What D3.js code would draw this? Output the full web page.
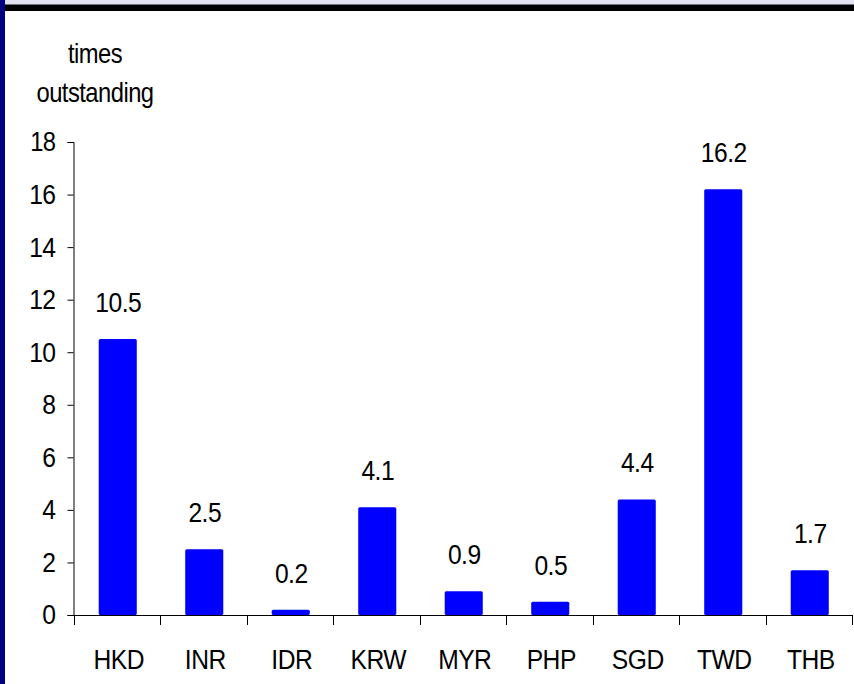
<!DOCTYPE html>
<html>
<head>
<meta charset="utf-8">
<script src="https://cdn.jsdelivr.net/npm/d3@7/dist/d3.min.js"></script>
<style>
  html, body { margin: 0; padding: 0; background: #fff; }
  svg { display: block; }
  text { font-family: "Liberation Sans", Arial, sans-serif; fill: #000; }
</style>
</head>
<body>
<svg id="chart" width="854" height="684"></svg>
<script>
const categories = ["HKD", "INR", "IDR", "KRW", "MYR", "PHP", "SGD", "TWD", "THB"];
const values = [10.5, 2.5, 0.2, 4.1, 0.9, 0.5, 4.4, 16.2, 1.7];
const yTicks = [0, 2, 4, 6, 8, 10, 12, 14, 16, 18];
const unitLines = ["times", "outstanding"];

const svg = d3.select("#chart");
const W = 854, H = 684;

// frame decorations
svg.append("rect").attr("x", 0).attr("y", 0).attr("width", W).attr("height", 5).attr("fill", "#e2e2f2");
svg.append("rect").attr("x", 0).attr("y", 4.5).attr("width", W).attr("height", 6.5).attr("fill", "#000");
svg.append("rect").attr("x", 0).attr("y", 0).attr("width", 5).attr("height", H).attr("fill", "#000080");

const x = d3.scaleBand().domain(categories).range([73.5, 852]).padding(0);
const y = d3.scaleLinear().domain([0, 18]).range([615, 142]);

const fontSize = 28, ls = -0.6, sx = 0.88;

// condense text horizontally around its anchor
function condense(sel) {
  sel.each(function () {
    const t = d3.select(this);
    const tx = +t.attr("x") || 0, ty = +t.attr("y") || 0;
    t.attr("x", 0).attr("y", 0)
      .attr("transform", `translate(${tx},${ty}) scale(${sx},1)`)
      .style("font-size", fontSize + "px")
      .style("letter-spacing", ls + "px")
      .style("font-family", '"Liberation Sans", Arial, sans-serif');
  });
}

// y axis
const yAxis = svg.append("g")
  .attr("transform", "translate(73.5,0)")
  .call(d3.axisLeft(y).tickValues(yTicks).tickFormat(d3.format("d")).tickSize(6).tickPadding(12));
yAxis.selectAll("path, line").attr("stroke", "#000");
yAxis.selectAll("text").call(condense);

// x axis line
svg.append("line")
  .attr("x1", x.range()[0]).attr("x2", x.range()[1])
  .attr("y1", y(0) + 0.5).attr("y2", y(0) + 0.5)
  .attr("stroke", "#000");

// x boundary ticks
const boundaries = categories.map(c => x(c)).concat([x(categories[categories.length - 1]) + x.step()]);
svg.append("g").selectAll("line").data(boundaries).join("line")
  .attr("x1", d => Math.round(d) + 0.5).attr("x2", d => Math.round(d) + 0.5)
  .attr("y1", y(0)).attr("y2", y(0) + 10)
  .attr("stroke", "#000");

// bars
const barW = x.bandwidth() * 0.44;
svg.append("g").selectAll("rect").data(values).join("rect")
  .attr("x", (d, i) => x(categories[i]) + (x.bandwidth() - barW) / 2 + 1)
  .attr("y", d => y(d))
  .attr("width", barW)
  .attr("height", d => y(0) - y(d))
  .attr("rx", 1.5)
  .attr("fill", "#0000ff");

// value labels
svg.append("g").selectAll("text").data(values).join("text")
  .attr("x", (d, i) => x(categories[i]) + x.bandwidth() / 2 + 1.5)
  .attr("y", d => y(d) - 27)
  .attr("text-anchor", "middle")
  .text(d => d.toFixed(1))
  .call(condense);

// category labels
svg.append("g").selectAll("text").data(categories).join("text")
  .attr("x", d => x(d) + x.bandwidth() / 2 + 2)
  .attr("y", 669)
  .attr("text-anchor", "middle")
  .text(d => d)
  .call(condense);

// unit label
svg.append("g").selectAll("text").data(unitLines).join("text")
  .attr("x", 95)
  .attr("y", (d, i) => 63 + i * 39)
  .attr("text-anchor", "middle")
  .text(d => d)
  .call(condense);
svg.selectAll("g:last-child text").style("font-size", "27px");
</script>
</body>
</html>
